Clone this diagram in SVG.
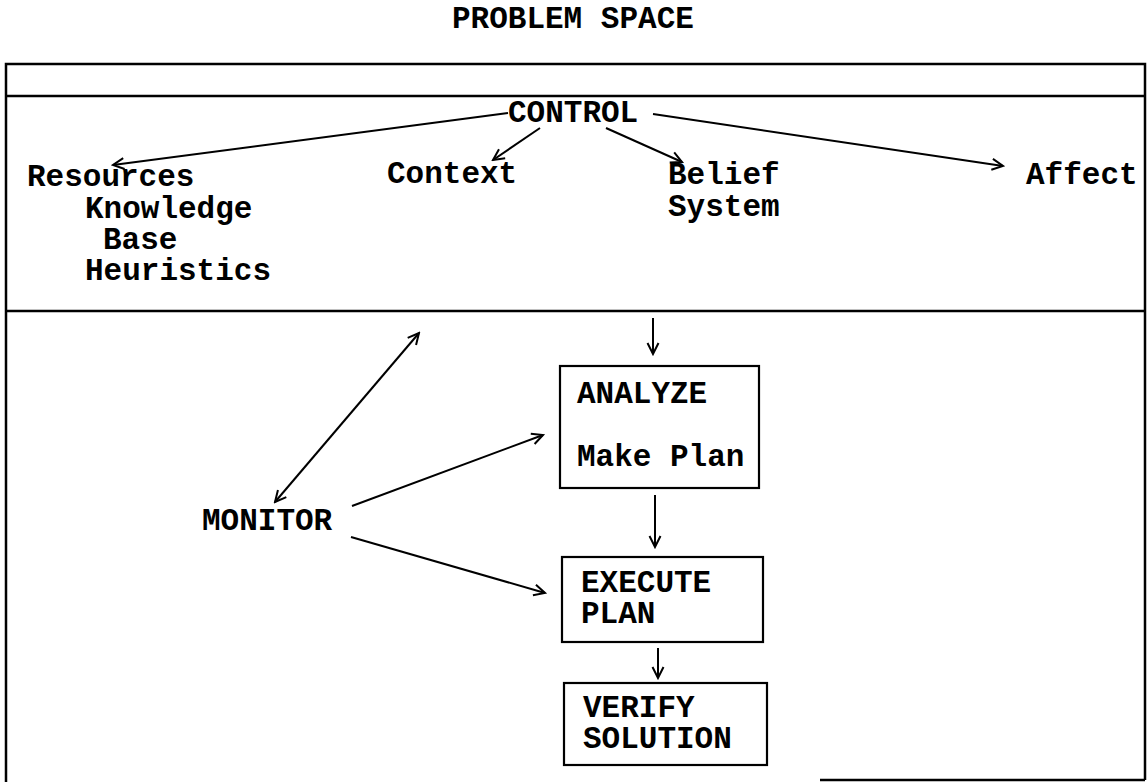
<svg xmlns="http://www.w3.org/2000/svg" width="1148" height="782" viewBox="0 0 1148 782">
<defs>
<style>
text{font-family:"Liberation Mono","Courier New",monospace;font-weight:bold;font-size:31px;fill:#000}
.frame{stroke:#000;stroke-width:2.5;fill:none}
.box{stroke:#000;stroke-width:2.2;fill:none}
.con{stroke:#000;stroke-width:2;fill:none;marker-end:url(#ah)}
.dbl{marker-start:url(#ah)}
</style>
<marker id="ah" markerUnits="userSpaceOnUse" markerWidth="14" markerHeight="14" refX="12" refY="7" orient="auto-start-reverse" viewBox="0 0 14 14">
<path d="M1,1.5 L12,7 L1,12.5" fill="none" stroke="#000" stroke-width="2"/>
</marker>
</defs>
<rect width="1148" height="782" fill="#fff"/>
<text x="452" y="28">PROBLEM SPACE</text>
<g id="frame">
<path class="frame" d="M6,782 V64 H1145 V780 M820,780 H1145 M6,96 H1145 M6,311 H1145"/>
</g>
<g id="control"><text x="508" y="122">CONTROL</text></g>
<g id="resources">
<text x="27" y="186">Resources</text>
<text x="85" y="218">Knowledge</text>
<text x="103" y="249">Base</text>
<text x="85" y="280">Heuristics</text>
</g>
<g id="context"><text x="387" y="183">Context</text></g>
<g id="belief"><text x="668" y="184">Belief</text><text x="668" y="216">System</text></g>
<g id="affect"><text x="1026" y="184">Affect</text></g>
<g id="monitor"><text x="202" y="530">MONITOR</text></g>
<g id="analyze">
<rect class="box" x="560" y="366" width="199" height="122"/>
<text x="577" y="403">ANALYZE</text>
<text x="577" y="466">Make Plan</text>
</g>
<g id="execute">
<rect class="box" x="562" y="557" width="201" height="85"/>
<text x="581" y="592">EXECUTE</text>
<text x="581" y="623">PLAN</text>
</g>
<g id="verify">
<rect class="box" x="564" y="683" width="203" height="82"/>
<text x="583" y="717">VERIFY</text>
<text x="583" y="748">SOLUTION</text>
</g>
<g id="connectors">
<path class="con" d="M508,113 L113,165"/>
<path class="con" d="M540,128 L493,160"/>
<path class="con" d="M606,128 L682,162"/>
<path class="con" d="M653,114 L1003,166"/>
<path class="con dbl" d="M275,502 L419,333"/>
<path class="con" d="M352,506 L543,435"/>
<path class="con" d="M351,537 L545,593"/>
<path class="con" d="M653,318 L653,354"/>
<path class="con" d="M655,495 L655,547"/>
<path class="con" d="M658,648 L658,678"/>
</g>
</svg>
